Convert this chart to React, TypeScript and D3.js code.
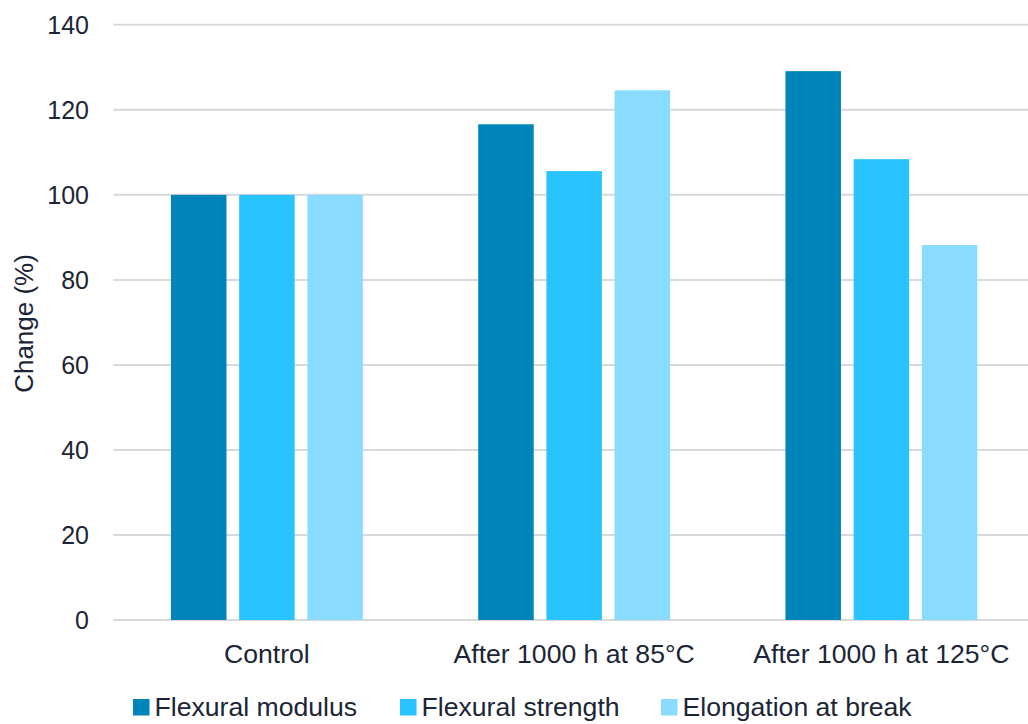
import React from "react";
import * as d3 from "d3";

const categories = ["Control", "After 1000 h at 85°C", "After 1000 h at 125°C"];
const seriesNames = ["Flexural modulus", "Flexural strength", "Elongation at break"];
const flexuralModulus = [100, 116.6, 129.1];
const flexuralStrength = [100, 105.6, 108.4];
const elongationAtBreak = [100, 124.6, 88.2];
const yTicks = [0, 20, 40, 60, 80, 100, 120, 140];
const colors = ["#0085BA", "#29C3FF", "#89DCFF"];

const seriesValues = [flexuralModulus, flexuralStrength, elongationAtBreak];

export default function App() {
  const W = 1028;
  const H = 724;
  const left = 113.3;
  const right = 1035;
  const y0 = 620;
  const yTop = 24.8;
  const textColor = "#1c2536";
  const font = "'Liberation Sans', Arial, Helvetica, sans-serif";

  const x = d3.scaleBand<string>().domain(categories).range([left, right]).padding(0);
  const xi = d3
    .scaleBand<string>()
    .domain(seriesNames)
    .range([0, x.bandwidth()])
    .paddingInner(0.186)
    .paddingOuter(0.846);
  const y = d3.scaleLinear().domain([0, 140]).range([y0, yTop]);

  const legendX = [133, 400, 661];

  return (
    <svg width={W} height={H} style={{ display: "block", position: "absolute", left: 0, top: 0 }} fontFamily={font}>
      <rect width={W} height={H} fill="#ffffff" />
      {yTicks.map((t) => (
        <g key={t}>
          <line x1={left} x2={W} y1={y(t)} y2={y(t)} stroke="#d9d9d9" strokeWidth={2} />
          <text x={89} y={y(t)} dy="0.36em" textAnchor="end" fontSize={25} fill={textColor}>
            {t}
          </text>
        </g>
      ))}
      {categories.map((c, ci) => (
        <g key={c}>
          {seriesNames.map((s, si) => {
            const v = seriesValues[si][ci];
            return (
              <rect
                key={s}
                x={(x(c) as number) + (xi(s) as number)}
                y={y(v)}
                width={xi.bandwidth()}
                height={y(0) - y(v)}
                fill={colors[si]}
              />
            );
          })}
          <text
            x={(x(c) as number) + x.bandwidth() / 2}
            y={663}
            textAnchor="middle"
            fontSize={26.6}
            fill={textColor}
          >
            {c}
          </text>
        </g>
      ))}
      <text
        transform={`translate(33, 323.5) rotate(-90)`}
        textAnchor="middle"
        fontSize={26}
        fill={textColor}
      >
        Change (%)
      </text>
      {seriesNames.map((s, si) => (
        <g key={s}>
          <rect x={legendX[si]} y={699} width={16.5} height={16.5} fill={colors[si]} />
          <text x={legendX[si] + 21.5} y={715.5} fontSize={26.6} fill={textColor}>
            {s}
          </text>
        </g>
      ))}
    </svg>
  );
}
